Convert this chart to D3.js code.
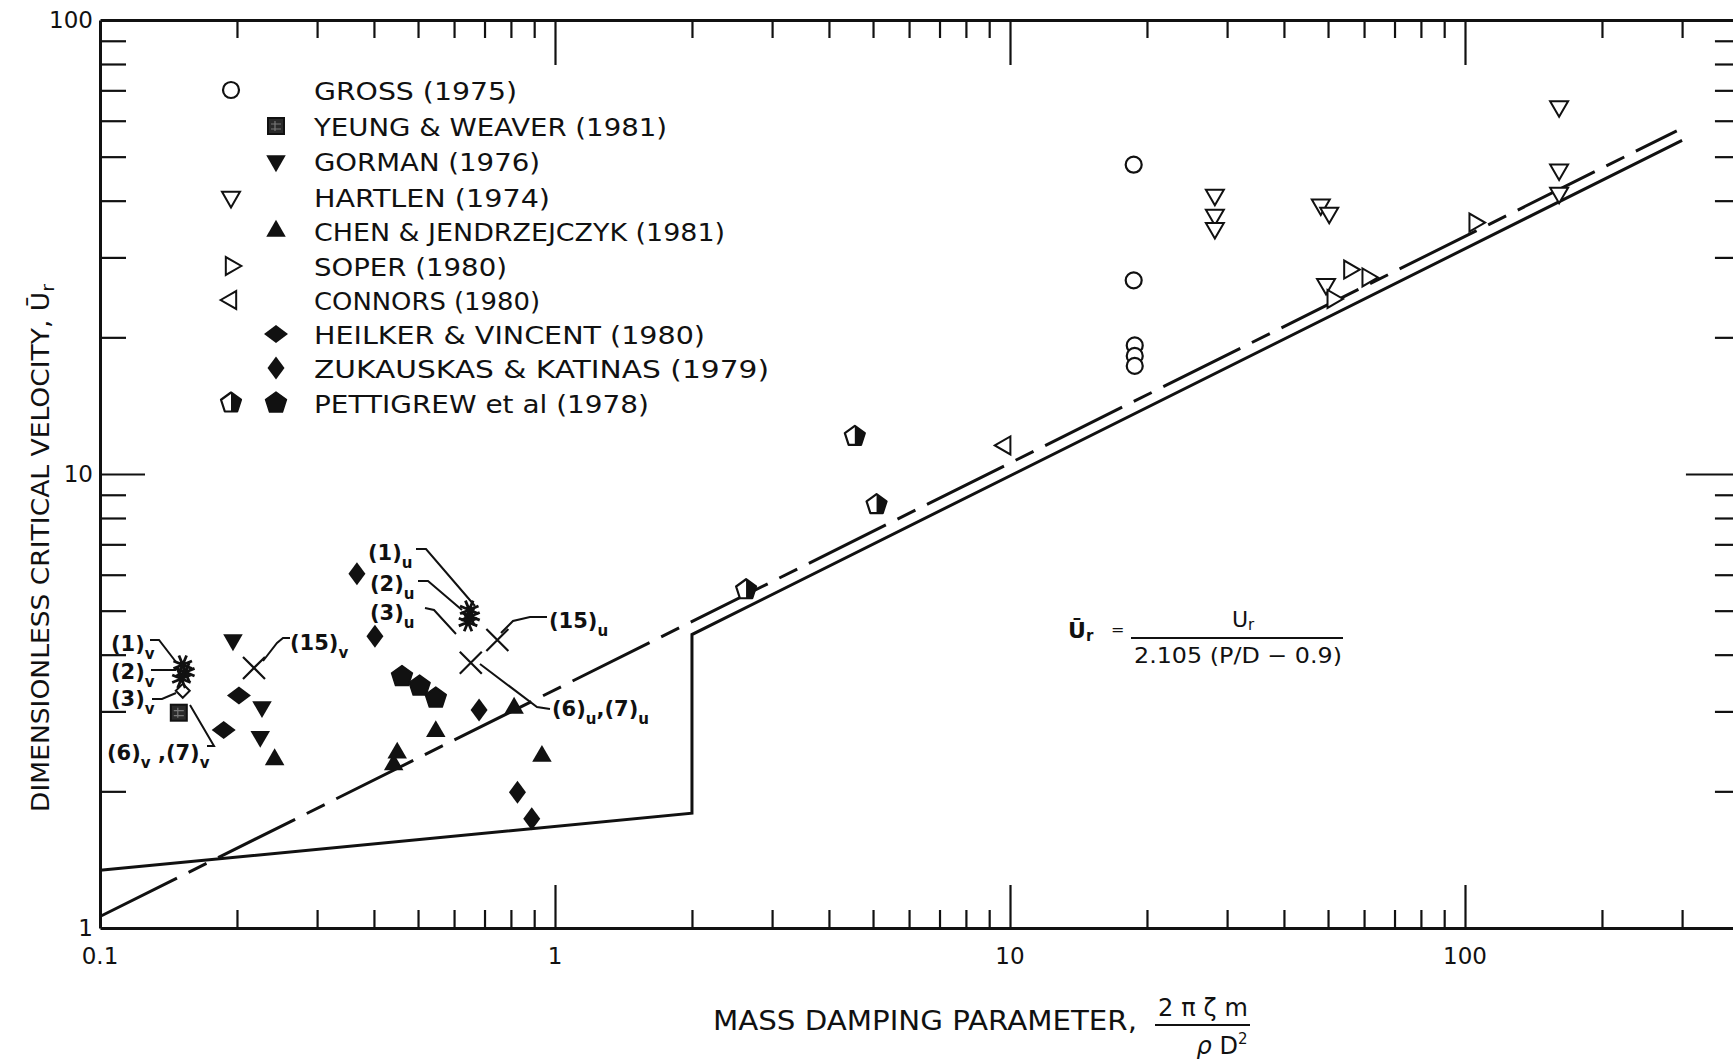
<!DOCTYPE html>
<html>
<head>
<meta charset="utf-8">
<script src="https://cdn.jsdelivr.net/npm/d3@7"></script>
<style>
  html, body { margin: 0; padding: 0; background: #fff; }
  svg { display: block; background: #fff; }
  text { font-family: "DejaVu Sans", "Liberation Sans", sans-serif; fill: #111; }
</style>
</head>
<body>
<svg id="chart" width="1733" height="1059"></svg>
<script>
// ---- data: [mass damping parameter, dimensionless critical velocity] ----
const gross            = [[18.7, 48.0], [18.7, 26.7], [18.8, 19.2], [18.8, 18.2], [18.8, 17.3]];
const yeungWeaver      = [[0.149, 2.98]];
const gorman           = [[0.196, 4.31], [0.227, 3.07], [0.225, 2.64]];
const hartlen          = [[28.2, 41.2], [28.2, 37.2], [28.2, 34.8], [48.2, 39.2], [50.3, 37.6],
                          [49.5, 26.2], [161, 64.5], [161, 46.8], [161, 41.6]];
const chenJendrzejczyk = [[0.242, 2.35], [0.442, 2.29], [0.450, 2.43], [0.547, 2.71], [0.813, 3.05], [0.936, 2.39]];
const soper            = [[51.2, 24.3], [55.7, 28.2], [61.1, 27.1], [105, 35.8]];
const connors          = [[9.76, 11.56]];
const heilkerVincent   = [[0.187, 2.73], [0.202, 3.25]];
const zukauskasKatinas = [[0.367, 6.03], [0.402, 4.39], [0.681, 3.02], [0.827, 1.99], [0.889, 1.74]];
const pettigrewHalf    = [[2.63, 5.56], [4.56, 12.1], [5.09, 8.56]];
const pettigrewFilled  = [[0.461, 3.58], [0.504, 3.41], [0.547, 3.21]];
const caseStarsV       = [[0.152, 3.80], [0.154, 3.66], [0.151, 3.54]];
const caseStarsU       = [[0.648, 5.02], [0.652, 4.86], [0.644, 4.72]];
const caseOpenDiamond  = [[0.152, 3.33]];
const caseCrosses      = [[0.218, 3.74], [0.747, 4.31], [0.653, 3.84]];

// stability boundaries
const solidBound  = [[0.1, 1.34], [2, 1.79], [2, 4.43], [300, 54.3]];
const dashedBound = [[0.1, 1.06], [292, 57.0]];

// axis labels
const xTickValues = [0.1, 1, 10, 100];
const xTickLabels = ["0.1", "1", "10", "100"];
const yTickValues = [1, 10, 100];
const yTickLabels = ["1", "10", "100"];

const legendLabels = [
  "GROSS (1975)", "YEUNG & WEAVER (1981)", "GORMAN (1976)", "HARTLEN (1974)",
  "CHEN & JENDRZEJCZYK (1981)", "SOPER (1980)", "CONNORS (1980)",
  "HEILKER & VINCENT (1980)", "ZUKAUSKAS & KATINAS (1979)", "PETTIGREW et al (1978)"
];
const legendSymbols = [
  [["circle", 0]], [["square", 1]], [["triDownFilled", 1]], [["triDownOpen", 0]],
  [["triUpFilled", 1]], [["triRightOpen", 0]], [["triLeftOpen", 0]],
  [["diamondWide", 1]], [["diamondTall", 1]], [["pentHalf", 0], ["pentFilled", 1]]
];
const legendWidths = [203, 353, 226, 236, 411, 193, 226, 391, 455, 335];

// ---- scales ----
const svg = d3.select("#chart");
const x = d3.scaleLog().domain([0.1, 400]).range([100, 100 + 455 * Math.log10(4000)]);
const y = d3.scaleLog().domain([1, 100]).range([928, 20]);
const X0 = x.range()[0], X1 = x.range()[1], Y0 = y.range()[0], Y1 = y.range()[1];

const ink = "#111";

// ---- frame and ticks ----
const xMinor = x.ticks().filter(v => v > 0.1 && v < 400);
const yMinor = y.ticks().filter(v => v > 1 && v < 100);
const isMajor = v => Math.abs(Math.log10(v) - Math.round(Math.log10(v))) < 1e-6;

function styleAxis(g) {
  g.select(".domain").attr("stroke", ink).attr("stroke-width", 3);
  g.selectAll(".tick line").attr("stroke", ink).attr("stroke-width", 2.2);
  g.selectAll(".tick text").remove();
}

const gBottom = svg.append("g").attr("transform", `translate(0,${Y0})`)
  .call(d3.axisBottom(x).tickValues(xMinor).tickSize(-18).tickSizeOuter(0).tickFormat(""));
styleAxis(gBottom);
gBottom.selectAll(".tick line").filter(isMajor).attr("y2", -43);

const gTop = svg.append("g").attr("transform", `translate(0,${Y1})`)
  .call(d3.axisTop(x).tickValues(xMinor).tickSize(-18).tickSizeOuter(0).tickFormat(""));
styleAxis(gTop);
gTop.selectAll(".tick line").filter(isMajor).attr("y2", 45);

const gLeft = svg.append("g").attr("transform", `translate(${X0},0)`)
  .call(d3.axisLeft(y).tickValues(yMinor).tickSize(-26).tickSizeOuter(0).tickFormat(""));
styleAxis(gLeft);
gLeft.selectAll(".tick line").filter(isMajor).attr("x2", 45);

const gRight = svg.append("g").attr("transform", `translate(${X1},0)`)
  .call(d3.axisRight(y).tickValues(yMinor).tickSize(-24).tickSizeOuter(0).tickFormat(""));
styleAxis(gRight);
gRight.selectAll(".tick line").filter(isMajor).attr("x2", -53);

// tick labels
svg.append("g").selectAll("text").data(xTickValues).join("text")
  .attr("x", d => x(d)).attr("y", 964)
  .attr("text-anchor", "middle").attr("font-size", 23)
  .text((d, i) => xTickLabels[i]);

svg.append("g").selectAll("text").data(yTickValues).join("text")
  .attr("x", 93).attr("y", d => y(d) + 8)
  .attr("text-anchor", "end").attr("font-size", 23)
  .text((d, i) => yTickLabels[i]);

// ---- boundary lines ----
const line = d3.line().x(d => x(d[0])).y(d => y(d[1]));
svg.append("path").datum(solidBound).attr("d", line)
  .attr("fill", "none").attr("stroke", ink).attr("stroke-width", 3).attr("stroke-linejoin", "miter");
svg.append("path").datum(dashedBound).attr("d", line)
  .attr("fill", "none").attr("stroke", ink).attr("stroke-width", 3)
  .attr("stroke-dasharray", "86 13 20 13");

// ---- marker shapes ----
function pentagonPoints(r) {
  const pts = [];
  for (let k = 0; k < 5; k++) {
    const a = -Math.PI / 2 + k * 2 * Math.PI / 5;
    pts.push([r * Math.cos(a), r * Math.sin(a)]);
  }
  return pts;
}
const triPath = d3.symbol(d3.symbolTriangle, 165)();
const triSmallPath = d3.symbol(d3.symbolTriangle, 140)();

function drawMarker(g, type, cx, cy) {
  const m = g.append("g").attr("transform", `translate(${cx},${cy})`);
  switch (type) {
    case "circle":
      m.append("circle").attr("r", 8).attr("fill", "#fff").attr("stroke", ink).attr("stroke-width", 2.2);
      break;
    case "square":
      m.append("rect").attr("x", -8).attr("y", -8).attr("width", 16).attr("height", 16)
        .attr("fill", "#2a2a2a").attr("stroke", ink).attr("stroke-width", 2);
      m.append("path").attr("d", "M-5,-2H5M-5,3H5M-1,-5V5").attr("stroke", "#777").attr("stroke-width", 1.2);
      break;
    case "triDownFilled":
      m.append("path").attr("d", triPath).attr("transform", "rotate(180)").attr("fill", ink);
      break;
    case "triDownOpen":
      m.append("path").attr("d", triSmallPath).attr("transform", "rotate(180)")
        .attr("fill", "#fff").attr("stroke", ink).attr("stroke-width", 2);
      break;
    case "triUpFilled":
      m.append("path").attr("d", triPath).attr("fill", ink);
      break;
    case "triRightOpen":
      m.append("path").attr("d", triSmallPath).attr("transform", "rotate(90)")
        .attr("fill", "#fff").attr("stroke", ink).attr("stroke-width", 2);
      break;
    case "triLeftOpen":
      m.append("path").attr("d", triSmallPath).attr("transform", "rotate(-90)")
        .attr("fill", "#fff").attr("stroke", ink).attr("stroke-width", 2);
      break;
    case "diamondWide":
      m.append("path").attr("d", "M0,-9L12,0L0,9L-12,0Z").attr("fill", ink);
      break;
    case "diamondTall":
      m.append("path").attr("d", "M0,-11.5L8.5,0L0,11.5L-8.5,0Z").attr("fill", ink);
      break;
    case "diamondOpen":
      m.append("path").attr("d", "M0,-7L7,0L0,7L-7,0Z").attr("fill", "#fff")
        .attr("stroke", ink).attr("stroke-width", 2);
      break;
    case "pentFilled": {
      const p = pentagonPoints(11);
      m.append("path").attr("d", "M" + p.join("L") + "Z").attr("fill", ink)
        .attr("stroke", ink).attr("stroke-width", 1.5).attr("stroke-linejoin", "round");
      break;
    }
    case "pentHalf": {
      const p = pentagonPoints(10.5);
      m.append("path").attr("d", "M" + p.join("L") + "Z").attr("fill", "#fff")
        .attr("stroke", ink).attr("stroke-width", 2.2).attr("stroke-linejoin", "round");
      const bottomMid = [(p[2][0] + p[3][0]) / 2, p[2][1]];
      m.append("path").attr("d", "M" + [p[0], p[1], p[2], bottomMid].join("L") + "Z").attr("fill", ink);
      break;
    }
    case "asterisk": {
      const r = 10;
      let d = "";
      for (let k = 0; k < 4; k++) {
        const a = k * Math.PI / 4 + Math.PI / 8;
        d += `M${-r * Math.cos(a)},${-r * Math.sin(a)}L${r * Math.cos(a)},${r * Math.sin(a)}`;
      }
      m.append("path").attr("d", d).attr("stroke", ink).attr("stroke-width", 2.8);
      break;
    }
    case "cross":
      m.append("path").attr("d", "M-11,-11L11,11M-11,11L11,-11").attr("stroke", ink).attr("stroke-width", 2.2);
      break;
  }
}

// ---- data points ----
const gPts = svg.append("g");
const series = [
  [gross, "circle"], [yeungWeaver, "square"], [gorman, "triDownFilled"], [hartlen, "triDownOpen"],
  [chenJendrzejczyk, "triUpFilled"], [soper, "triRightOpen"], [connors, "triLeftOpen"],
  [heilkerVincent, "diamondWide"], [zukauskasKatinas, "diamondTall"],
  [pettigrewHalf, "pentHalf"], [pettigrewFilled, "pentFilled"],
  [caseOpenDiamond, "diamondOpen"], [caseStarsV, "asterisk"], [caseStarsU, "asterisk"],
  [caseCrosses, "cross"]
];
series.forEach(([pts, type]) => pts.forEach(d => drawMarker(gPts, type, x(d[0]), y(d[1]))));

// ---- legend ----
const legendRowY = [90, 126, 161, 197, 231, 266, 300, 334, 368, 403];
const gLeg = svg.append("g");
legendLabels.forEach((lab, i) => {
  legendSymbols[i].forEach(([type, col]) => drawMarker(gLeg, type, col === 0 ? 231 : 276, legendRowY[i]));
  gLeg.append("text").attr("x", 314).attr("y", legendRowY[i] + 10)
    .attr("font-size", 25).attr("textLength", legendWidths[i]).attr("lengthAdjust", "spacingAndGlyphs")
    .text(lab);
});

// ---- case annotations with leader lines ----
const annotations = [
  { parts: [["(1)", 0], ["v", 1]], x: 111, y: 651, leader: [[150, 640], [159, 640], [176, 662]] },
  { parts: [["(2)", 0], ["v", 1]], x: 111, y: 679, leader: [[151, 670], [176, 670]] },
  { parts: [["(3)", 0], ["v", 1]], x: 111, y: 706, leader: [[152, 699], [162, 699], [176, 693]] },
  { parts: [["(6)", 0], ["v", 1], [" ,(7)", 0], ["v", 1]], x: 107, y: 760, leader: [[207, 746], [214, 746], [190, 705]] },
  { parts: [["(15)", 0], ["v", 1]], x: 290, y: 650, leader: [[263, 661], [277, 643], [283, 638], [290, 638]] },
  { parts: [["(1)", 0], ["u", 1]], x: 368, y: 560, leader: [[416, 549], [426, 549], [475, 606]] },
  { parts: [["(2)", 0], ["u", 1]], x: 370, y: 591, leader: [[418, 581], [428, 581], [462, 610]] },
  { parts: [["(3)", 0], ["u", 1]], x: 370, y: 620, leader: [[425, 608], [434, 610], [456, 634]] },
  { parts: [["(15)", 0], ["u", 1]], x: 549, y: 628, leader: [[501, 633], [513, 621], [530, 617], [547, 617]] },
  { parts: [["(6)", 0], ["u", 1], [",(7)", 0], ["u", 1]], x: 552, y: 716, leader: [[480, 664], [537, 707], [550, 709]] }
];
const gAnn = svg.append("g");
annotations.forEach(a => {
  gAnn.append("path").attr("d", "M" + a.leader.join("L"))
    .attr("fill", "none").attr("stroke", ink).attr("stroke-width", 2);
  const t = gAnn.append("text").attr("x", a.x).attr("y", a.y)
    .attr("font-size", 21).attr("font-weight", "bold");
  let shifted = false;
  a.parts.forEach(([s, sub]) => {
    const ts = t.append("tspan").text(s);
    if (sub && !shifted) { ts.attr("dy", 8).attr("font-size", 15); shifted = true; }
    else if (sub) { ts.attr("font-size", 15); }
    else if (shifted) { ts.attr("dy", -8); shifted = false; }
  });
});

// ---- formula ----
const gEq = svg.append("g");
gEq.append("text").attr("x", 1068).attr("y", 638).attr("font-size", 22).attr("font-weight", "bold")
  .html('Ū<tspan font-size="15" dy="3">r</tspan>');
gEq.append("text").attr("x", 1111).attr("y", 635).attr("font-size", 16).text("=");
gEq.append("line").attr("x1", 1131).attr("x2", 1343).attr("y1", 638).attr("y2", 638)
  .attr("stroke", ink).attr("stroke-width", 2.2);
gEq.append("text").attr("x", 1232).attr("y", 627).attr("font-size", 22)
  .html('U<tspan font-size="15" dy="3">r</tspan>');
gEq.append("text").attr("x", 1134).attr("y", 663).attr("font-size", 22)
  .attr("textLength", 208).attr("lengthAdjust", "spacingAndGlyphs")
  .text("2.105 (P/D − 0.9)");

// ---- axis titles ----
svg.append("text")
  .attr("transform", "translate(49,548) rotate(-90)")
  .attr("text-anchor", "middle").attr("font-size", 24)
  .attr("textLength", 528).attr("lengthAdjust", "spacingAndGlyphs")
  .html('DIMENSIONLESS CRITICAL VELOCITY, Ū<tspan font-size="17" dy="5">r</tspan>');

svg.append("text").attr("x", 713).attr("y", 1030).attr("font-size", 26)
  .attr("textLength", 424).attr("lengthAdjust", "spacingAndGlyphs")
  .text("MASS DAMPING PARAMETER,");
svg.append("text").attr("x", 1203).attr("y", 1016).attr("text-anchor", "middle")
  .attr("font-size", 24).attr("textLength", 90).attr("lengthAdjust", "spacing").text("2πζm");
svg.append("line").attr("x1", 1155).attr("x2", 1250).attr("y1", 1025).attr("y2", 1025)
  .attr("stroke", ink).attr("stroke-width", 2.2);
svg.append("text").attr("x", 1222).attr("y", 1054).attr("text-anchor", "middle")
  .attr("font-size", 24).html('<tspan font-style="italic">ρ</tspan> D<tspan font-size="15" dy="-10">2</tspan>');
</script>
</body>
</html>
